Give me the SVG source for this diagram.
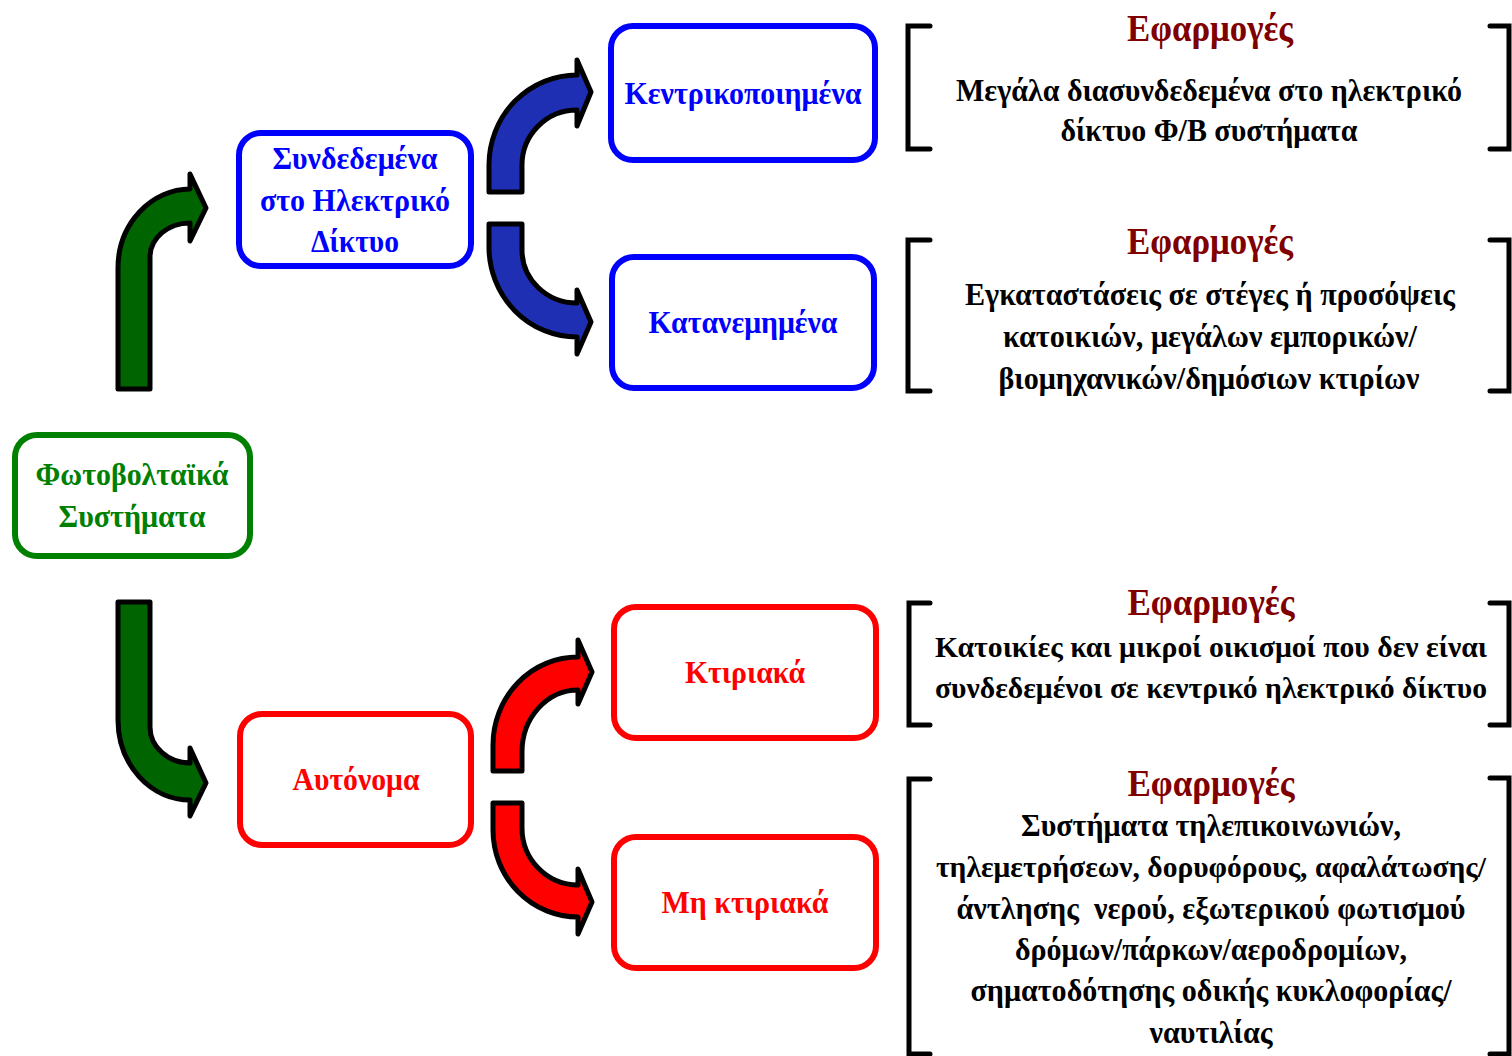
<svg xmlns="http://www.w3.org/2000/svg" width="1512" height="1056" viewBox="0 0 1512 1056">
<style>
text{font-family:"Liberation Serif","Times New Roman",serif;font-weight:bold;text-anchor:middle}
.box{fill:#fff;stroke-width:6}
.g{stroke:#008000}.b{stroke:#0000ff}.r{stroke:#ff0000}
.tg{fill:#008000;font-size:32px}.tb{fill:#0000ff;font-size:32px}.tr{fill:#ff0000;font-size:32px}
.h{fill:#800000;font-size:38px}
.t{fill:#000;font-size:32px}
.n{font-size:29px}
.br{fill:none;stroke:#000;stroke-width:5;stroke-linecap:round;stroke-linejoin:miter}
.arr{stroke:#000;stroke-width:5;stroke-linejoin:round}
</style>
<rect width="1512" height="1056" fill="#fff"/>
<g id="connectors">
<path class="arr" fill="#006400" d="M118,389 L118,268 A73,79 0 0 1 190,189 L190,174 L206,208 L190,241 L190,223 A40,34 0 0 0 150,257 L150,389 Z"/>
<path class="arr" fill="#006400" d="M118,602 L150,602 L150,727 A40,36 0 0 0 190,763 L190,748 L206,783 L190,816 L190,800 A72,80 0 0 1 118,720 Z"/>
<path class="arr" fill="#1f2fb4" d="M489,192 L489,165 A88,90 0 0 1 577,75 L577,60 L591,92 L577,126 L577,110 A55,55 0 0 0 522,165 L522,192 Z"/>
<path class="arr" fill="#1f2fb4" d="M489,224 L522,224 L522,250 A55,53 0 0 0 577,303 L577,290 L591,322 L577,354 L577,337 A88,90 0 0 1 489,247 Z"/>
<path class="arr" fill="#ff0000" d="M493,771 L493,745 A85,88 0 0 1 578,657 L578,640 L592,672 L578,704 L578,690 A56,62 0 0 0 522,752 L522,771 Z"/>
<path class="arr" fill="#ff0000" d="M493,803 L522,803 L522,828 A56,57 0 0 0 578,885 L578,869 L592,902 L578,934 L578,917 A85,87 0 0 1 493,830 Z"/>
</g>
<g id="node-pv">
<rect class="box g" x="15" y="435" width="235" height="121" rx="22"/>
<text class="tg" x="132" y="485" textLength="193" lengthAdjust="spacingAndGlyphs">Φωτοβολταϊκά</text>
<text class="tg" x="132" y="527" textLength="147" lengthAdjust="spacingAndGlyphs">Συστήματα</text>
</g>
<g id="node-grid">
<rect class="box b" x="239" y="133" width="232" height="133" rx="22"/>
<text class="tb" x="355" y="169" textLength="165" lengthAdjust="spacingAndGlyphs">Συνδεδεμένα</text>
<text class="tb" x="355" y="211" textLength="190" lengthAdjust="spacingAndGlyphs">στο Ηλεκτρικό</text>
<text class="tb" x="355" y="252" textLength="88" lengthAdjust="spacingAndGlyphs">Δίκτυο</text>
</g>
<g id="node-central">
<rect class="box b" x="611" y="26" width="264" height="134" rx="22"/>
<text class="tb" x="743" y="104" textLength="237" lengthAdjust="spacingAndGlyphs">Κεντρικοποιημένα</text>
</g>
<g id="node-distributed">
<rect class="box b" x="612" y="257" width="262" height="131" rx="22"/>
<text class="tb" x="743" y="333" textLength="189" lengthAdjust="spacingAndGlyphs">Κατανεμημένα</text>
</g>
<g id="node-autonomous">
<rect class="box r" x="240" y="714" width="231" height="131" rx="22"/>
<text class="tr" x="356" y="790" textLength="127" lengthAdjust="spacingAndGlyphs">Αυτόνομα</text>
</g>
<g id="node-building">
<rect class="box r" x="614" y="607" width="262" height="131" rx="22"/>
<text class="tr" x="745" y="683" textLength="120" lengthAdjust="spacingAndGlyphs">Κτιριακά</text>
</g>
<g id="node-nonbuilding">
<rect class="box r" x="614" y="837" width="262" height="131" rx="22"/>
<text class="tr" x="745" y="913" textLength="167" lengthAdjust="spacingAndGlyphs">Μη κτιριακά</text>
</g>
<g id="note-central">
<path class="br" d="M930,26 L908,26 L908,149 L930,149"/>
<path class="br" d="M1490,26 L1509,26 L1509,149 L1490,149"/>
<text class="h" x="1210" y="41" textLength="166" lengthAdjust="spacingAndGlyphs">Εφαρμογές</text>
<text class="t" x="1209" y="101" textLength="506" lengthAdjust="spacingAndGlyphs">Μεγάλα διασυνδεδεμένα στο ηλεκτρικό</text>
<text class="t" x="1209" y="141" textLength="297" lengthAdjust="spacingAndGlyphs">δίκτυο Φ/Β συστήματα</text>
</g>
<g id="note-distributed">
<path class="br" d="M930,240 L908,240 L908,391 L930,391"/>
<path class="br" d="M1490,240 L1509,240 L1509,391 L1490,391"/>
<text class="h" x="1210" y="254" textLength="166" lengthAdjust="spacingAndGlyphs">Εφαρμογές</text>
<text class="t" x="1210" y="305" textLength="490" lengthAdjust="spacingAndGlyphs">Εγκαταστάσεις σε στέγες ή προσόψεις</text>
<text class="t" x="1210" y="347" textLength="414" lengthAdjust="spacingAndGlyphs">κατοικιών, μεγάλων εμπορικών/</text>
<text class="t" x="1209" y="389" textLength="421" lengthAdjust="spacingAndGlyphs">βιομηχανικών/δημόσιων κτιρίων</text>
</g>
<g id="note-building">
<path class="br" d="M930,603 L909,603 L909,725 L930,725"/>
<path class="br" d="M1490,603 L1509,603 L1509,725 L1490,725"/>
<text class="h" x="1211" y="615" textLength="167" lengthAdjust="spacingAndGlyphs">Εφαρμογές</text>
<text class="t n" x="1211" y="657" textLength="552" lengthAdjust="spacingAndGlyphs">Κατοικίες και μικροί οικισμοί που δεν είναι</text>
<text class="t n" x="1211" y="698" textLength="552" lengthAdjust="spacingAndGlyphs">συνδεδεμένοι σε κεντρικό ηλεκτρικό δίκτυο</text>
</g>
<g id="note-nonbuilding">
<path class="br" d="M930,779 L909,779 L909,1054 L930,1054"/>
<path class="br" d="M1490,778 L1509,778 L1509,1054 L1490,1054"/>
<text class="h" x="1211" y="796" textLength="167" lengthAdjust="spacingAndGlyphs">Εφαρμογές</text>
<text class="t" x="1211" y="836" textLength="380" lengthAdjust="spacingAndGlyphs">Συστήματα τηλεπικοινωνιών,</text>
<text class="t n" x="1211" y="877" textLength="550" lengthAdjust="spacingAndGlyphs">τηλεμετρήσεων, δορυφόρους, αφαλάτωσης/</text>
<text class="t" x="1211" y="919" textLength="509" lengthAdjust="spacingAndGlyphs" xml:space="preserve">άντλησης  νερού, εξωτερικού φωτισμού</text>
<text class="t" x="1211" y="960" textLength="392" lengthAdjust="spacingAndGlyphs">δρόμων/πάρκων/αεροδρομίων,</text>
<text class="t" x="1211" y="1001" textLength="481" lengthAdjust="spacingAndGlyphs">σηματοδότησης οδικής κυκλοφορίας/</text>
<text class="t" x="1211" y="1043" textLength="123" lengthAdjust="spacingAndGlyphs">ναυτιλίας</text>
</g>
</svg>
